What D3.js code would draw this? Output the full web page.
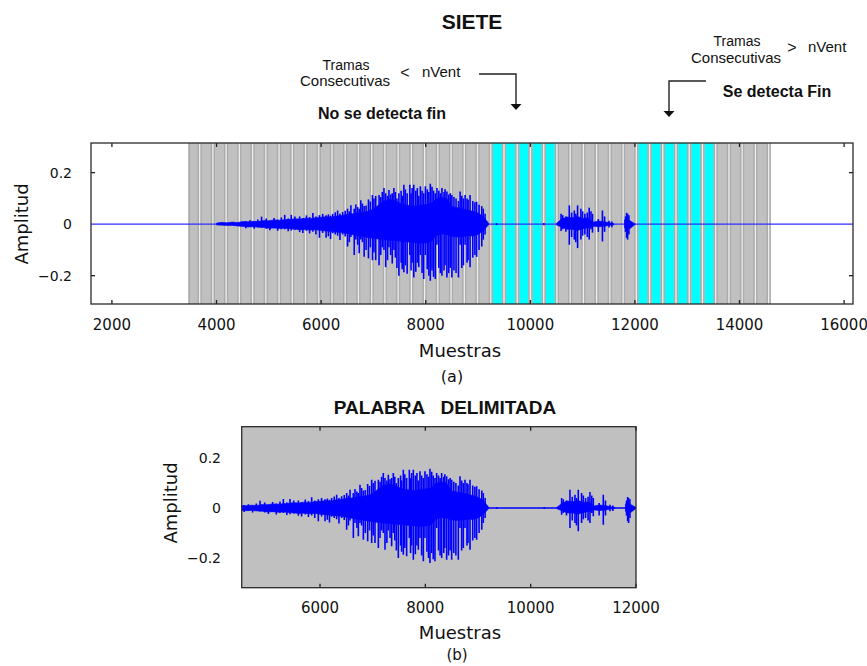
<!DOCTYPE html>
<html>
<head>
<meta charset="utf-8">
<script src="https://cdn.jsdelivr.net/npm/d3@7"></script>
<style>
  html, body { margin: 0; padding: 0; background: #ffffff; }
  svg { display: block; }
</style>
</head>
<body>
<svg id="fig" width="867" height="666"></svg>
<script>
// ---------- data ----------
// axis ticks
const xTicksTop = [2000, 4000, 6000, 8000, 10000, 12000, 14000, 16000];
const xTicksBottom = [6000, 8000, 10000, 12000];
const yTicks = [-0.2, 0, 0.2];

// analysis frames (samples) and the frames flagged as silence runs
const frameStart = 3466;
const frameStep = 253;
const frameCount = 44;
const silentRunShort = [23, 24, 25, 26, 27];      // run shorter than nVent
const silentRunLong = [34, 35, 36, 37, 38, 39];   // run longer than nVent -> end of word

// delimited word limits (samples)
const wordStart = 4513;
const wordEnd = 12000;

// signal envelope, one value every 100 samples
const envSamples = [4000, 4100, 4200, 4300, 4400, 4500, 4600, 4700, 4800, 4900,
  5000, 5100, 5200, 5300, 5400, 5500, 5600, 5700, 5800, 5900,
  6000, 6100, 6200, 6300, 6400, 6500, 6600, 6700, 6800, 6900,
  7000, 7100, 7200, 7300, 7400, 7500, 7600, 7700, 7800, 7900,
  8000, 8100, 8200, 8300, 8400, 8500, 8600, 8700, 8800, 8900,
  9000, 9100, 9200, 9300, 9400, 9500, 9600, 9700, 9800, 9900,
  10000, 10100, 10200, 10300, 10400, 10500, 10600, 10700, 10800, 10900,
  11000, 11100, 11200, 11300, 11400, 11500, 11600, 11700, 11800, 11900, 12000];
const envUpper = [0.004, 0.007, 0.005, 0.008, 0.006, 0.010, 0.009, 0.011, 0.010, 0.014,
  0.013, 0.016, 0.015, 0.017, 0.019, 0.021, 0.020, 0.023, 0.022, 0.025,
  0.027, 0.029, 0.028, 0.032, 0.034, 0.038, 0.040, 0.044, 0.046, 0.050,
  0.058, 0.075, 0.090, 0.095, 0.092, 0.082, 0.075, 0.072, 0.070, 0.074,
  0.076, 0.080, 0.098, 0.105, 0.100, 0.068, 0.064, 0.060, 0.055, 0.050,
  0.043, 0.030, 0.004, 0, 0, 0, 0, 0, 0, 0,
  0, 0, 0, 0, 0, 0.003, 0.020, 0.028, 0.025, 0.030,
  0.022, 0.025, 0.008, 0.012, 0.010, 0.006, 0.002, 0, 0.016, 0.014, 0.002];
const envLower = [-0.003, -0.004, -0.005, -0.005, -0.007, -0.009, -0.011, -0.010, -0.012, -0.013,
  -0.016, -0.015, -0.017, -0.016, -0.018, -0.020, -0.022, -0.021, -0.023, -0.022,
  -0.025, -0.027, -0.029, -0.031, -0.033, -0.037, -0.041, -0.045, -0.048, -0.052,
  -0.055, -0.058, -0.060, -0.062, -0.064, -0.066, -0.068, -0.070, -0.072, -0.074,
  -0.072, -0.068, -0.045, -0.038, -0.040, -0.048, -0.050, -0.048, -0.045, -0.046,
  -0.040, -0.026, -0.003, 0, 0, 0, 0, 0, 0, 0,
  0, 0, 0, 0, 0, -0.003, -0.012, -0.020, -0.020, -0.025,
  -0.018, -0.015, -0.008, -0.010, -0.009, -0.005, -0.002, 0, -0.014, -0.018, -0.002];

// individual peaks (pitch pulses and ripples) standing out of the envelope
const peakSamples = [4560, 4640, 4720, 4790, 4861, 4950, 5020, 5100, 5170, 5240,
  5304, 5370, 5430, 5500, 5589, 5650, 5720, 5780, 5842, 5900,
  5968, 6030, 6095, 6139, 6180, 6221, 6270, 6316, 6360, 6411,
  6460, 6506, 6540, 6570, 6633, 6664, 6700, 6728, 6759, 6790,
  6823, 6860, 6905, 6940, 6981, 7010, 7044, 7108, 7140, 7170,
  7202, 7234, 7270, 7297, 7330, 7360, 7392, 7420, 7450, 7487,
  7530, 7550, 7582, 7610, 7645, 7696, 7720, 7740, 7772, 7810,
  7840, 7867, 7898, 7930, 7962, 7993, 8030, 8060, 8088, 8120,
  8150, 8183, 8215, 8250, 8280, 8310, 8350, 8370, 8405, 8440,
  8470, 8500, 8540, 8580, 8626, 8658, 8690, 8721, 8753, 8790,
  8810, 8848, 8900, 8940, 8974, 9020, 9072, 9101, 9135, 9354,
  10259, 10588, 10620, 10680, 10746, 10790, 10841, 10870, 10904, 10967,
  11000, 11043, 11090, 11126, 11160, 11189, 11300, 11379, 11420, 11505,
  11560, 11820, 11841, 11860, 11885];
const peakHigh = [0.012, 0.015, 0.010, 0.018, 0.029, 0.022, 0.014, 0.024, 0.018, 0.026,
  0.036, 0.022, 0.036, 0.030, 0.030, 0.024, 0.034, 0.028, 0.043, 0.030,
  0.035, 0.040, 0.035, 0.038, 0.033, 0.040, 0.046, 0.053, 0.040, 0.047,
  0.052, 0.060, 0.050, 0.073, 0.060, 0.076, 0.066, 0.060, 0.093, 0.080,
  0.070, 0.072, 0.096, 0.088, 0.113, 0.100, 0.109, 0.113, 0.105, 0.125,
  0.140, 0.120, 0.110, 0.133, 0.115, 0.120, 0.140, 0.125, 0.100, 0.120,
  0.130, 0.110, 0.153, 0.135, 0.120, 0.153, 0.120, 0.140, 0.153, 0.130,
  0.140, 0.110, 0.147, 0.130, 0.120, 0.147, 0.135, 0.125, 0.157, 0.145,
  0.130, 0.120, 0.140, 0.130, 0.120, 0.140, 0.125, 0.135, 0.127, 0.115,
  0.120, 0.113, 0.105, 0.100, 0.090, 0.127, 0.110, 0.100, 0.113, 0.100,
  0.095, 0.113, 0.090, 0.085, 0.087, 0.075, 0.070, 0.060, 0.040, 0.004,
  0.004, 0.040, 0.035, 0.030, 0.073, 0.045, 0.053, 0.040, 0.073, 0.060,
  0.050, 0.040, 0.045, 0.064, 0.050, 0.040, 0.020, 0.053, 0.030, 0.013,
  0.010, 0.030, 0.044, 0.040, 0.035];
const peakLow = [-0.016, -0.010, -0.018, -0.012, -0.014, -0.018, -0.024, -0.016, -0.026, -0.020,
  -0.020, -0.028, -0.025, -0.022, -0.031, -0.034, -0.026, -0.036, -0.030, -0.040,
  -0.053, -0.034, -0.053, -0.047, -0.058, -0.035, -0.040, -0.045, -0.062, -0.040,
  -0.048, -0.087, -0.070, -0.050, -0.120, -0.060, -0.080, -0.113, -0.060, -0.070,
  -0.127, -0.100, -0.133, -0.090, -0.140, -0.110, -0.140, -0.160, -0.120, -0.090,
  -0.100, -0.167, -0.140, -0.090, -0.120, -0.153, -0.100, -0.130, -0.170, -0.200,
  -0.150, -0.175, -0.187, -0.160, -0.193, -0.120, -0.180, -0.150, -0.207, -0.185,
  -0.150, -0.167, -0.120, -0.190, -0.213, -0.120, -0.175, -0.200, -0.220, -0.180,
  -0.205, -0.213, -0.080, -0.170, -0.190, -0.200, -0.180, -0.160, -0.207, -0.190,
  -0.170, -0.207, -0.180, -0.190, -0.207, -0.080, -0.170, -0.160, -0.080, -0.150,
  -0.140, -0.167, -0.130, -0.120, -0.127, -0.100, -0.087, -0.060, -0.040, -0.004,
  -0.004, -0.027, -0.020, -0.030, -0.080, -0.050, -0.060, -0.070, -0.093, -0.060,
  -0.045, -0.040, -0.050, -0.060, -0.020, -0.033, -0.030, -0.067, -0.030, -0.013,
  -0.012, -0.030, -0.053, -0.060, -0.040];

// ---------- drawing ----------
const svg = d3.select("#fig");
const BLUE = "#0000ff";
const tickFont = "'DejaVu Sans', sans-serif";
const textFont = "'Liberation Sans', Arial, sans-serif";

const envelope = envSamples.map((s, i) => ({ s, hi: envUpper[i], lo: envLower[i] }));
const peaks = peakSamples.map((s, i) => ({ s, hi: peakHigh[i], lo: peakLow[i] }));

function drawWave(g, x, y, lineColor) {
  const [d0, d1] = x.domain();
  g.append("line")
    .attr("x1", x(d0)).attr("x2", x(d1))
    .attr("y1", y(0)).attr("y2", y(0))
    .attr("stroke", lineColor).attr("stroke-width", 1.4);
  const area = d3.area()
    .x(d => x(d.s)).y0(d => y(d.lo)).y1(d => y(d.hi));
  const segs = [];
  let cur = [];
  envelope.forEach(d => {
    if (d.s < d0 - 100 || d.s > d1 + 100) return;
    if (d.hi === 0 && d.lo === 0) { if (cur.length) segs.push(cur); cur = []; }
    else cur.push(d);
  });
  if (cur.length) segs.push(cur);
  g.selectAll(null).data(segs).enter().append("path")
    .attr("d", area).attr("fill", BLUE).attr("stroke", BLUE).attr("stroke-width", 0.6);
  g.selectAll(null).data(peaks).enter().append("line")
    .attr("x1", d => x(d.s)).attr("x2", d => x(d.s))
    .attr("y1", d => y(d.hi)).attr("y2", d => y(d.lo))
    .attr("stroke", BLUE).attr("stroke-width", 1.6);
}

function drawFrameBox(g, x, y, topTicks, bottomTicks, leftTicks) {
  const [xa, xb] = x.range();
  const [ya, yb] = y.range();
  const tl = 4;
  const tc = "#202020";
  topTicks.forEach(t => {
    g.append("line").attr("x1", x(t)).attr("x2", x(t)).attr("y1", yb).attr("y2", yb + tl)
      .attr("stroke", tc).attr("stroke-width", 1.3);
  });
  bottomTicks.forEach(t => {
    g.append("line").attr("x1", x(t)).attr("x2", x(t)).attr("y1", ya).attr("y2", ya - tl)
      .attr("stroke", tc).attr("stroke-width", 1.3);
  });
  leftTicks.forEach(t => {
    g.append("line").attr("x1", xa).attr("x2", xa + tl).attr("y1", y(t)).attr("y2", y(t))
      .attr("stroke", tc).attr("stroke-width", 1.3);
    g.append("line").attr("x1", xb).attr("x2", xb - tl).attr("y1", y(t)).attr("y2", y(t))
      .attr("stroke", tc).attr("stroke-width", 1.3);
  });
  g.append("rect")
    .attr("x", xa).attr("y", yb).attr("width", xb - xa).attr("height", ya - yb)
    .attr("fill", "none").attr("stroke", "#2a2a2a").attr("stroke-width", 1.3);
}

function tickLabels(g, x, y, xTicks, xLabelY, yLabelX, fontSize) {
  const fmt = d3.format("d");
  g.selectAll(null).data(xTicks).enter().append("text")
    .attr("x", d => x(d)).attr("y", xLabelY)
    .attr("text-anchor", "middle")
    .attr("font-family", tickFont).attr("font-size", fontSize)
    .attr("fill", "#111").text(d => fmt(d));
  g.selectAll(null).data(yTicks).enter().append("text")
    .attr("x", yLabelX).attr("y", d => y(d)).attr("dy", "0.36em")
    .attr("text-anchor", "end")
    .attr("font-family", tickFont).attr("font-size", fontSize - 1)
    .attr("fill", "#111").text(d => d === 0 ? "0" : d3.format(".1f")(d));
}

// ---------- panel (a) ----------
const xTop = d3.scaleLinear().domain([1600, 16170]).range([91, 853]);
const yTop = d3.scaleLinear().domain([-0.31, 0.315]).range([304, 143]);
const gA = svg.append("g");

svg.append("defs").append("clipPath").attr("id", "clipA")
  .append("rect").attr("x", 91).attr("y", 143).attr("width", 762).attr("height", 161);

const plotA = gA.append("g").attr("clip-path", "url(#clipA)");
const frames = d3.range(frameCount).map(i => ({
  i, s0: frameStart + i * frameStep, s1: frameStart + (i + 1) * frameStep
}));
const isCyan = i => silentRunShort.includes(i) || silentRunLong.includes(i);
const sepW = 4.3;

plotA.selectAll(null).data(frames).enter().append("rect")
  .attr("x", d => xTop(d.s0)).attr("y", 143)
  .attr("width", d => xTop(d.s1) - xTop(d.s0)).attr("height", 161)
  .attr("fill", "#c0c0c0");
plotA.selectAll(null).data(frames).enter().append("rect")
  .attr("x", d => xTop(d.s0)).attr("y", 143)
  .attr("width", d => xTop(d.s1) - xTop(d.s0) - sepW).attr("height", 161)
  .attr("fill", d => isCyan(d.i) ? "#00ffff" : "#c0c0c0");
plotA.selectAll(null).data(frames).enter().append("rect")
  .attr("x", d => xTop(d.s1) - sepW).attr("y", 143)
  .attr("width", sepW).attr("height", 161)
  .attr("fill", "#ababab");
plotA.selectAll(null).data(frames).enter().append("rect")
  .attr("x", d => xTop(d.s1) - sepW / 2 - 0.65).attr("y", 143)
  .attr("width", 1.3).attr("height", 161)
  .attr("fill", "#efefef");
plotA.append("rect")
  .attr("x", xTop(frameStart)).attr("y", 143).attr("width", 1).attr("height", 161)
  .attr("fill", "#9a9a9a");

drawWave(plotA, xTop, yTop, "#2f2fff");
drawFrameBox(gA, xTop, yTop, xTicksTop, xTicksTop, [-0.2, 0.2]);
tickLabels(gA, xTop, yTop, xTicksTop, 330, 72, 15);

gA.append("text").attr("x", 460).attr("y", 357).attr("text-anchor", "middle")
  .attr("font-family", tickFont).attr("font-size", 18).attr("fill", "#111").text("Muestras");
gA.append("text").attr("x", 452).attr("y", 382).attr("text-anchor", "middle")
  .attr("font-family", tickFont).attr("font-size", 16).attr("fill", "#111").text("(a)");
gA.append("text").attr("transform", "translate(28,224) rotate(-90)")
  .attr("text-anchor", "middle")
  .attr("font-family", tickFont).attr("font-size", 18).attr("fill", "#111").text("Amplitud");

// title and annotations
svg.append("text").attr("x", 472).attr("y", 29).attr("text-anchor", "middle")
  .attr("font-family", textFont).attr("font-weight", "bold").attr("font-size", 21)
  .attr("fill", "#111").text("SIETE");

function annot(x, y, txt, size, bold, anchor) {
  svg.append("text").attr("x", x).attr("y", y)
    .attr("text-anchor", anchor || "middle")
    .attr("font-family", textFont).attr("font-size", size)
    .attr("font-weight", bold ? "bold" : "normal")
    .attr("fill", "#111").text(txt);
}
annot(346, 70, "Tramas", 14);
annot(345, 86, "Consecutivas", 15);
annot(405, 78, "<", 16);
annot(422, 77, "nVent", 15, false, "start");
annot(382, 119, "No se detecta fin", 16, true);

annot(737, 46, "Tramas", 14);
annot(736, 63, "Consecutivas", 15);
annot(792, 53, ">", 16);
annot(808, 52, "nVent", 15, false, "start");
annot(777, 97, "Se detecta Fin", 16, true);

svg.append("path").attr("d", "M479,74 H516 V104")
  .attr("fill", "none").attr("stroke", "#222").attr("stroke-width", 1.4);
svg.append("path").attr("d", "M510.5,104 L521.5,104 L516,110 Z").attr("fill", "#111");
svg.append("path").attr("d", "M706,81 H669 V111")
  .attr("fill", "none").attr("stroke", "#222").attr("stroke-width", 1.4);
svg.append("path").attr("d", "M663.5,111 L674.5,111 L669,117 Z").attr("fill", "#111");

// ---------- panel (b) ----------
const xBot = d3.scaleLinear().domain([wordStart, wordEnd]).range([241.7, 636]);
const yBot = d3.scaleLinear().domain([-0.319, 0.325]).range([587.7, 426.7]);
const gB = svg.append("g");
svg.select("defs").append("clipPath").attr("id", "clipB")
  .append("rect").attr("x", 241.7).attr("y", 426.7).attr("width", 394.3).attr("height", 161);
gB.append("rect").attr("x", 241.7).attr("y", 426.7).attr("width", 394.3).attr("height", 161)
  .attr("fill", "#c0c0c0");
const plotB = gB.append("g").attr("clip-path", "url(#clipB)");
drawWave(plotB, xBot, yBot, BLUE);
drawFrameBox(gB, xBot, yBot, xTicksBottom, xTicksBottom, []);
tickLabels(gB, xBot, yBot, xTicksBottom, 613, 221, 15);

gB.append("text").attr("x", 445).attr("y", 414).attr("text-anchor", "middle")
  .attr("font-family", textFont).attr("font-weight", "bold").attr("font-size", 19)
  .attr("fill", "#111").style("white-space", "pre").text("PALABRA   DELIMITADA");
gB.append("text").attr("x", 460).attr("y", 639).attr("text-anchor", "middle")
  .attr("font-family", tickFont).attr("font-size", 18).attr("fill", "#111").text("Muestras");
gB.append("text").attr("x", 457).attr("y", 660).attr("text-anchor", "middle")
  .attr("font-family", tickFont).attr("font-size", 15).attr("fill", "#111").text("(b)");
gB.append("text").attr("transform", "translate(177,503) rotate(-90)")
  .attr("text-anchor", "middle")
  .attr("font-family", tickFont).attr("font-size", 18).attr("fill", "#111").text("Amplitud");
</script>
</body>
</html>
